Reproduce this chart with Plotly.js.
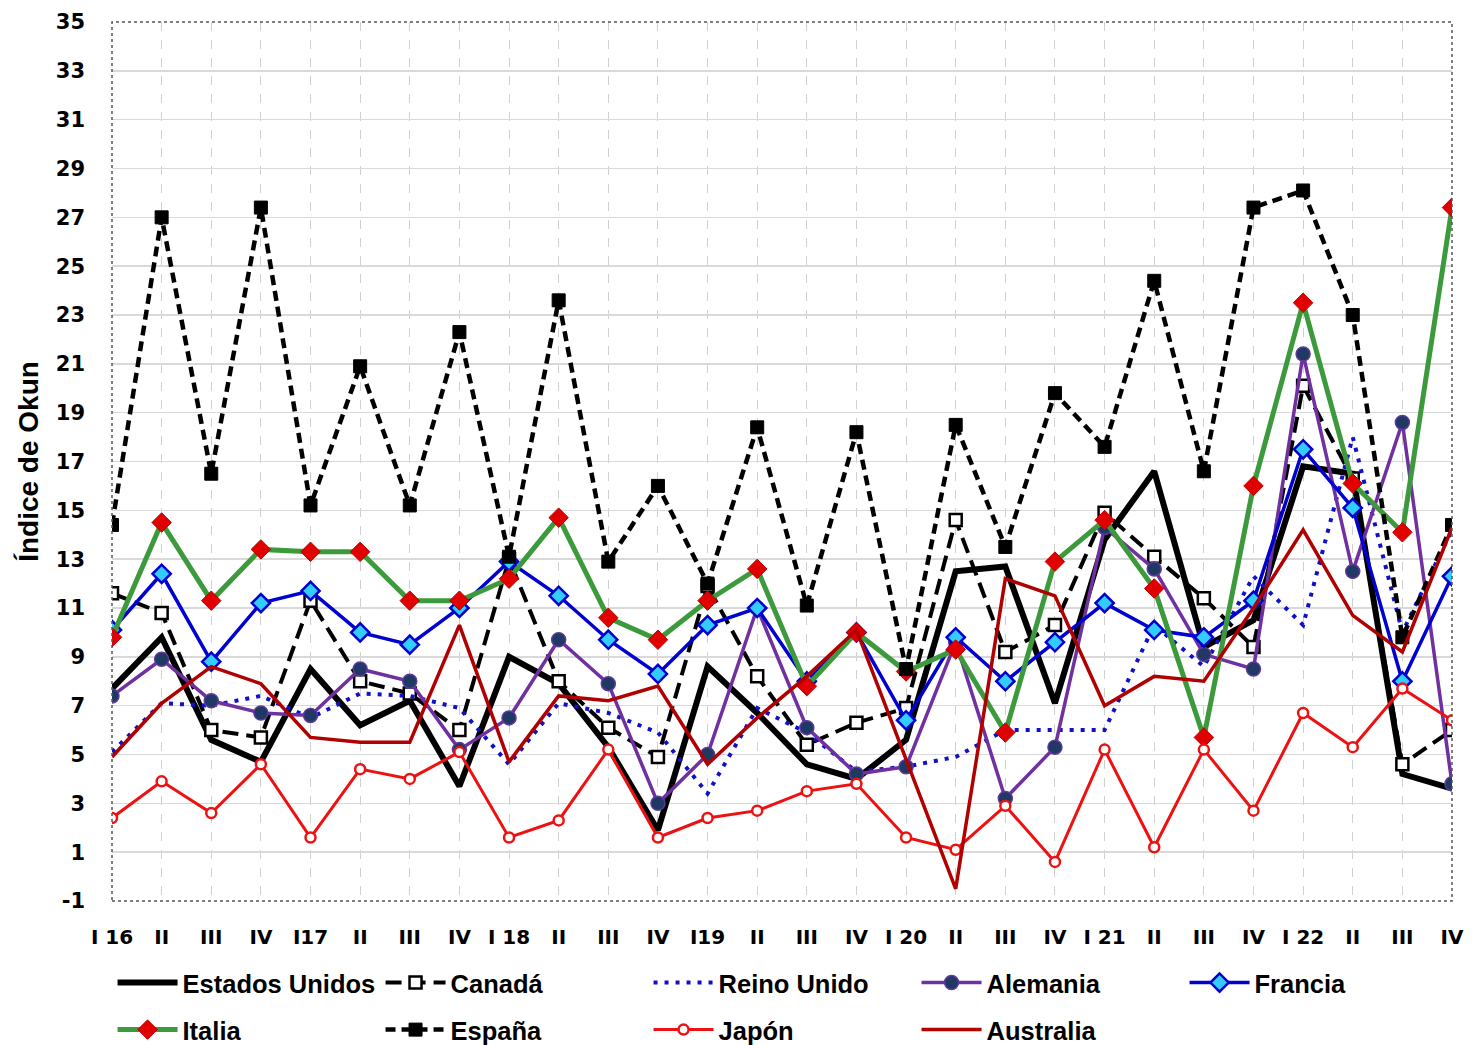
<!DOCTYPE html>
<html>
<head>
<meta charset="utf-8">
<script src="https://cdn.plot.ly/plotly-3.0.1.min.js"></script>
<style>html,body{margin:0;padding:0;background:#fff;}#chart{width:1478px;height:1045px;}</style>
</head>
<body>
<div id="chart"></div>
<script>
const tickLabels = ["I 16","II","III","IV","I17","II","III","IV","I 18","II","III","IV","I19","II","III","IV","I 20","II","III","IV","I 21","II","III","IV","I 22","II","III","IV"];
const quarterIndex = tickLabels.map((_, i) => i);

const estadosUnidos = [7.7, 9.8, 5.6, 4.7, 8.5, 6.2, 7.2, 3.7, 9.0, 7.9, 5.3, 1.9, 8.6, 6.7, 4.6, 4.0, 5.6, 12.5, 12.7, 7.1, 13.8, 16.6, 9.4, 10.5, 16.8, 16.5, 4.2, 3.6];
const canada = [11.6, 10.8, 6.0, 5.7, 11.3, 8.0, 7.5, 6.0, 13.0, 8.0, 6.1, 4.9, 11.9, 8.2, 5.4, 6.3, 6.9, 14.6, 9.2, 10.3, 14.9, 13.1, 11.4, 9.4, 20.1, 16.3, 4.6, 6.0];
const reinoUnido = [5.1, 7.1, 7.0, 7.4, 6.5, 7.5, 7.4, 6.9, 4.6, 7.1, 6.7, 5.9, 3.4, 6.9, 5.9, 4.3, 4.5, 4.9, 6.0, 6.0, 6.0, 10.3, 8.6, 12.3, 10.3, 18.0, 10.0, 14.2];
const alemania = [7.4, 8.9, 7.2, 6.7, 6.6, 8.5, 8.0, 5.2, 6.5, 9.7, 7.9, 3.0, 5.0, 11.0, 6.1, 4.2, 4.5, 9.6, 3.2, 5.3, 14.3, 12.6, 9.1, 8.5, 21.4, 12.5, 18.6, 3.8];
const francia = [10.1, 12.4, 8.8, 11.2, 11.7, 10.0, 9.5, 11.0, 12.9, 11.5, 9.7, 8.3, 10.3, 11.0, 8.0, 10.0, 6.4, 9.8, 8.0, 9.6, 11.2, 10.1, 9.8, 11.3, 17.5, 15.1, 8.0, 12.3];
const italia = [9.8, 14.5, 11.3, 13.4, 13.3, 13.3, 11.3, 11.3, 12.2, 14.7, 10.6, 9.7, 11.3, 12.6, 7.8, 10.0, 8.4, 9.3, 5.9, 12.9, 14.6, 11.8, 5.7, 16.0, 23.5, 16.1, 14.1, 27.4];
const espana = [14.4, 27.0, 16.5, 27.4, 15.2, 20.9, 15.2, 22.3, 13.1, 23.6, 12.9, 16.0, 12.0, 18.4, 11.1, 18.2, 8.5, 18.5, 13.5, 19.8, 17.6, 24.4, 16.6, 27.4, 28.1, 23.0, 9.8, 14.4];
const japon = [2.4, 3.9, 2.6, 4.6, 1.6, 4.4, 4.0, 5.1, 1.6, 2.3, 5.2, 1.6, 2.4, 2.7, 3.5, 3.8, 1.6, 1.1, 2.9, 0.6, 5.2, 1.2, 5.2, 2.7, 6.7, 5.3, 7.7, 6.4];
const australia = [4.9, 7.1, 8.6, 7.9, 5.7, 5.5, 5.5, 10.3, 4.7, 7.4, 7.2, 7.8, 4.6, 6.5, 8.2, 10.1, 4.8, -0.5, 12.2, 11.5, 7.0, 8.2, 8.0, 11.0, 14.2, 10.7, 9.2, 14.3];

const yTicks = [-1, 1, 3, 5, 7, 9, 11, 13, 15, 17, 19, 21, 23, 25, 27, 29, 31, 33, 35];
const yTickLabels = ["-1", "1", "3", "5", "7", "9", "11", "13", "15", "17", "19", "21", "23", "25", "27", "29", "31", "33", "35"];

const textFont = "Liberation Sans, Arial, sans-serif";

function tr(name, y, line, marker, legend) {
  const t = {
    type: 'scatter', x: quarterIndex, y: y, name: name,
    mode: marker ? 'lines+markers' : 'lines',
    line: line, legend: legend, hoverinfo: 'skip'
  };
  if (marker) t.marker = marker;
  return t;
}

const data = [
  tr('Estados Unidos', estadosUnidos, {color: '#000000', width: 6}, null, 'legend'),
  tr('Canadá', canada, {color: '#000000', width: 4, dash: '16px,8px'},
     {symbol: 'square', size: 12, color: '#ffffff', line: {color: '#000000', width: 2.5}}, 'legend'),
  tr('Reino Unido', reinoUnido, {color: '#1010c8', width: 4, dash: '4px,7px'}, null, 'legend'),
  tr('Alemania', alemania, {color: '#7030a0', width: 3.5},
     {symbol: 'circle', size: 14, color: '#1f3864', line: {color: '#5b3a9a', width: 1.5}}, 'legend'),
  tr('Francia', francia, {color: '#0000d0', width: 3.5},
     {symbol: 'diamond', size: 14, color: '#33ccff', line: {color: '#0000d0', width: 2.5}}, 'legend'),
  tr('Italia', italia, {color: '#3c9a3c', width: 5},
     {symbol: 'diamond', size: 15, color: '#e00000', line: {color: '#c00000', width: 1}}, 'legend2'),
  tr('España', espana, {color: '#000000', width: 4.5, dash: '10px,6px'},
     {symbol: 'square', size: 13, color: '#000000', line: {color: '#000000', width: 1}}, 'legend2'),
  tr('Japón', japon, {color: '#ee1111', width: 3},
     {symbol: 'circle', size: 10, color: '#ffffff', line: {color: '#ee1111', width: 2.5}}, 'legend2'),
  tr('Australia', australia, {color: '#b00000', width: 3.5}, null, 'legend2')
];

const legendCommon = {
  orientation: 'h', x: 0.0004, xanchor: 'left', yanchor: 'middle',
  font: {family: textFont, size: 25.5, color: '#000000', weight: 'bold'},
  itemwidth: 60, entrywidth: 193, entrywidthmode: 'pixels',
  bgcolor: 'rgba(0,0,0,0)', borderwidth: 0, traceorder: 'normal',
  itemclick: false, itemdoubleclick: false
};

const layout = {
  width: 1478, height: 1045,
  margin: {l: 112, r: 26, t: 22, b: 144, autoexpand: false},
  paper_bgcolor: '#ffffff', plot_bgcolor: '#ffffff',
  showlegend: true,
  legend: Object.assign({}, legendCommon, {y: -0.0933}),
  legend2: Object.assign({}, legendCommon, {y: -0.1468}),
  xaxis: {
    range: [0, 27], tickvals: quarterIndex, ticktext: tickLabels,
    showgrid: true, gridcolor: '#d0d0d0', griddash: 'dash', gridwidth: 1,
    zeroline: false, showline: false, ticks: '', automargin: false,
    tickfont: {family: 'DejaVu Sans', size: 20, color: '#000000', weight: 'bold'},
    ticklabelstandoff: 22, fixedrange: true
  },
  yaxis: {
    range: [-1, 35], tickvals: yTicks, ticktext: yTickLabels,
    showgrid: true, gridcolor: '#d9d9d9', gridwidth: 1.5,
    zeroline: false, showline: false, ticks: '', automargin: false,
    tickfont: {family: 'DejaVu Sans', size: 21, color: '#000000', weight: 'bold'},
    ticklabelstandoff: 26, fixedrange: true,
    title: {text: 'Índice de Okun', font: {family: textFont, size: 28, color: '#000000', weight: 'bold'}, standoff: 8}
  },
  shapes: [{
    type: 'rect', xref: 'paper', yref: 'paper', x0: 0, x1: 1, y0: 0, y1: 1,
    line: {color: '#555555', width: 1.5, dash: 'dot'}, layer: 'above'
  }]
};

Plotly.newPlot('chart', data, layout, {displayModeBar: false, staticPlot: true});
</script>
</body>
</html>
